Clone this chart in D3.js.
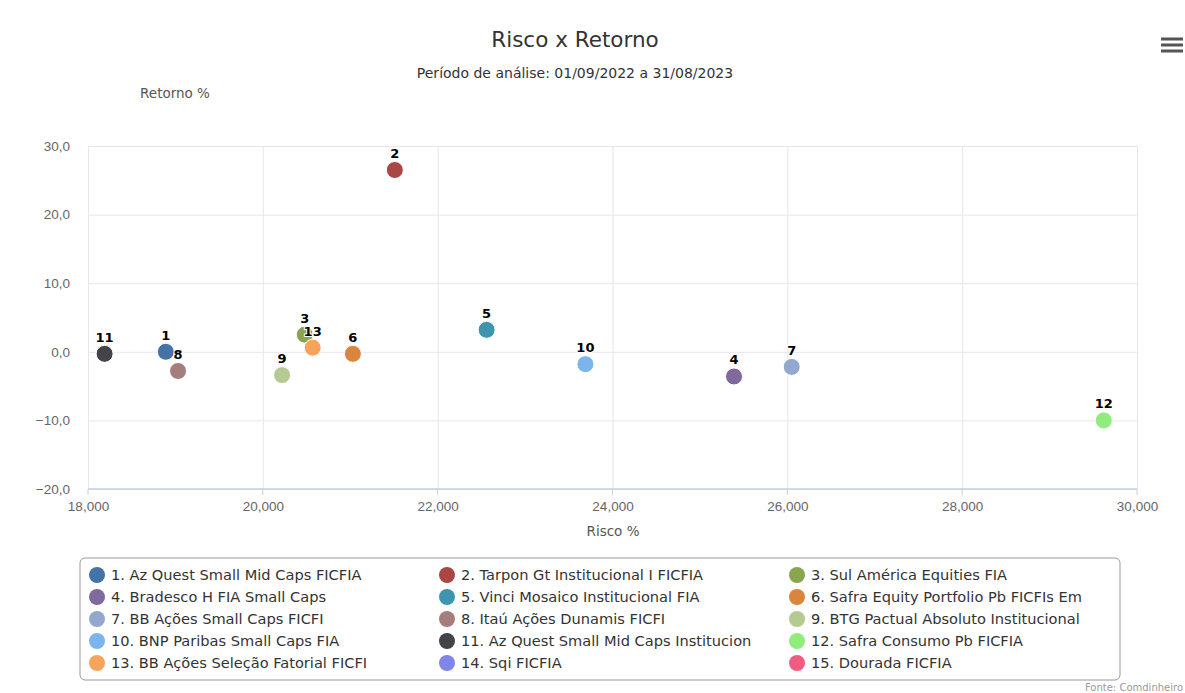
<!DOCTYPE html>
<html>
<head>
<meta charset="utf-8">
<title>Risco x Retorno</title>
<script src="https://d3js.org/d3.v7.min.js"></script>
<style>
body { margin: 0; background: #fff; }
svg { font-family: "DejaVu Sans", Verdana, sans-serif; }
.tick line { stroke: #e6e6ee; }
</style>
</head>
<body>
<svg width="1185" height="693"></svg>
<script>
// funds: id, name, risk (x), return (y)
var fundNames = ["Az Quest Small Mid Caps FICFIA", "Tarpon Gt Institucional I FICFIA", "Sul América Equities FIA",
  "Bradesco H FIA Small Caps", "Vinci Mosaico Institucional FIA", "Safra Equity Portfolio Pb FICFIs Em",
  "BB Ações Small Caps FICFI", "Itaú Ações Dunamis FICFI", "BTG Pactual Absoluto Institucional",
  "BNP Paribas Small Caps FIA", "Az Quest Small Mid Caps Institucion", "Safra Consumo Pb FICFIA",
  "BB Ações Seleção Fatorial FICFI", "Sqi FICFIA", "Dourada FICFIA"];
var risco   = [18890, 21510, 20480, 25390, 22560, 21030, 26050, 19030, 20220, 23690, 18190, 29620, 20570, null, null];
var retorno = [0.0, 26.5, 2.5, -3.6, 3.2, -0.3, -2.2, -2.8, -3.4, -1.8, -0.3, -10.0, 0.6, null, null];
var colors = ["#4572A7", "#AA4643", "#89A54E", "#80699B", "#3D96AE", "#DB843D", "#92A8CD", "#A47D7C", "#B5CA92",
  "#7cb5ec", "#434348", "#90ed7d", "#f7a35c", "#8085e9", "#f15c80"];
var xTicks = [18000, 20000, 22000, 24000, 26000, 28000, 30000];
var yTicks = [-20, -10, 0, 10, 20, 30];

var funds = fundNames.map(function(n, i) {
  return {id: i + 1, name: n, x: risco[i], y: retorno[i], color: colors[i]};
});

var svg = d3.select("svg");
var pLeft = 88, pRight = 1137, pTop = 146, pBottom = 489;
var x = d3.scaleLinear().domain([18000, 30000]).range([pLeft, pRight]);
var y = d3.scaleLinear().domain([-20, 30]).range([pBottom, pTop]);

// title
svg.append("text").attr("x", 575).attr("y", 47).attr("text-anchor", "middle")
  .style("font-size", "21.5px").attr("fill", "#333").text("Risco x Retorno");
svg.append("text").attr("x", 575).attr("y", 78).attr("text-anchor", "middle")
  .style("font-size", "14px").attr("fill", "#333").text("Período de análise: 01/09/2022 a 31/08/2023");

// hamburger
[39, 45, 51].forEach(function(yy) {
  svg.append("rect").attr("x", 1161).attr("y", yy - 1.5).attr("width", 22).attr("height", 3).attr("fill", "#555");
});

// grid
var fmtY = function(d) { return d3.format(".1f")(d).replace(".", ",").replace("-", "−"); };
svg.append("g").attr("transform", "translate(" + pLeft + ",0)")
  .call(d3.axisLeft(y).tickValues(yTicks).tickSize(-(pRight - pLeft)).tickFormat(fmtY))
  .call(function(g) {
    g.select(".domain").remove();
    g.selectAll("text").attr("x", -18).attr("fill", "#666").style("font-size", "13.5px");
  });
svg.append("g").attr("transform", "translate(0," + pBottom + ")")
  .call(d3.axisBottom(x).tickValues(xTicks).tickSize(-(pBottom - pTop)).tickFormat(d3.format(",")))
  .call(function(g) {
    g.select(".domain").remove();
    g.selectAll("text").attr("y", 12).attr("fill", "#666").style("font-size", "13.5px");
  });
// x axis line and ticks
svg.append("line").attr("x1", pLeft).attr("x2", pRight).attr("y1", pBottom).attr("y2", pBottom)
  .attr("stroke", "#c0d0e0").attr("stroke-width", 1.5);
svg.append("g").selectAll("line").data(xTicks).join("line")
  .attr("x1", function(d) { return x(d); }).attr("x2", function(d) { return x(d); })
  .attr("y1", pBottom).attr("y2", pBottom + 6).attr("stroke", "#c0d0e0");

// axis titles
svg.append("text").attr("x", 175).attr("y", 98).attr("text-anchor", "middle")
  .style("font-size", "13.5px").attr("fill", "#555").text("Retorno %");
svg.append("text").attr("x", 613).attr("y", 536).attr("text-anchor", "middle")
  .style("font-size", "13.5px").attr("fill", "#555").text("Risco %");

// points
var pts = funds.filter(function(d) { return d.x != null; });
svg.append("g").selectAll("circle").data(pts).join("circle")
  .attr("cx", function(d) { return x(d.x); })
  .attr("cy", function(d) { return y(d.y); })
  .attr("r", 8.5)
  .attr("fill", function(d) { return d.color; })
  .attr("stroke", "#fff").attr("stroke-width", 1);
svg.append("g").selectAll("text").data(pts).join("text")
  .attr("x", function(d) { return x(d.x); })
  .attr("y", function(d) { return y(d.y) - 12; })
  .attr("text-anchor", "middle")
  .style("font-size", "13px").style("font-weight", "bold")
  .attr("fill", "#000").attr("stroke", "#fff").attr("stroke-width", 2).attr("paint-order", "stroke")
  .text(function(d) { return d.id; });

// legend
svg.append("rect").attr("x", 80).attr("y", 558).attr("width", 1040).attr("height", 122)
  .attr("rx", 5).attr("fill", "#fff").attr("stroke", "#999");
var lg = svg.append("g").selectAll("g").data(funds).join("g")
  .attr("transform", function(d, i) {
    return "translate(" + (97 + (i % 3) * 350) + "," + (575 + Math.floor(i / 3) * 22) + ")";
  });
lg.append("circle").attr("r", 8).attr("fill", function(d) { return d.color; });
lg.append("text").attr("x", 14).attr("y", 5).style("font-size", "14.6px").attr("fill", "#333")
  .text(function(d) { return d.id + ". " + d.name; });

svg.append("text").attr("x", 1183).attr("y", 691).attr("text-anchor", "end")
  .style("font-size", "10px").attr("fill", "#999").text("Fonte: Comdinheiro");
</script>
</body>
</html>
